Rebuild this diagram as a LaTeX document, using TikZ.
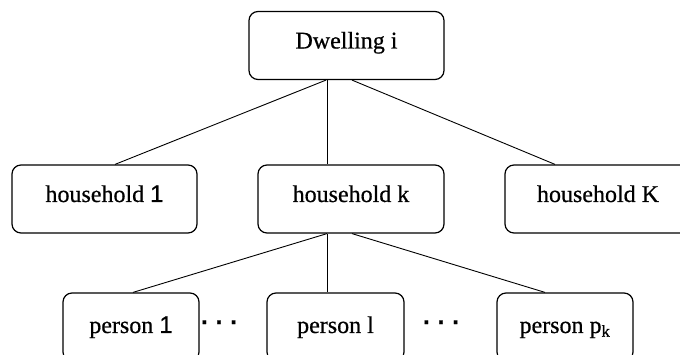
\documentclass[tikz,border=0pt]{standalone}
\usepackage{fontspec}
\setmainfont{Liberation Serif}[FakeBold=0.6]
\setsansfont{Liberation Sans}[FakeBold=0.6]
\begin{document}
\begin{tikzpicture}[x=1pt,y=-1pt,
  box/.style={draw, line width=1.2pt, rounded corners=9pt, inner xsep=0pt, inner ysep=0pt,
    font=\fontsize{24}{28}\selectfont, text height=37pt, text depth=31pt},
  pbox/.style={box, text height=40pt, text depth=28pt},
  link/.style={line width=0.9pt},
  dots/.style={font=\fontsize{24}{28}\selectfont\sffamily\bfseries, inner sep=0pt, anchor=base}]
\useasboundingbox (0,0) rectangle (680,355);
\node[box, minimum width=195pt] (d) at (346.5,45.5) {Dwelling i};
\node[box, minimum width=185pt] (h1) at (104.5,199) {household {\sffamily 1}};
\node[box, minimum width=186pt] (hk) at (351,199) {household k};
\node[box, minimum width=186pt] (hK) at (598,199) {household K};
\node[pbox, minimum width=136pt] (p1) at (131,327) {person {\sffamily 1}};
\node[pbox, minimum width=137pt] (pl) at (335.5,327) {person l};
\node[pbox, minimum width=136pt] (pp) at (565,327) {person p\textsubscript{k}};
\node[dots] (dA) at (219,324) {.\,\,.\,\,.};
\node[dots] (dB) at (441,324) {.\,\,.\,\,.};
\draw[link] ([xshift=-20.5pt]d.south) -- ([xshift=10.5pt]h1.north);
\draw[link] ([xshift=-19.5pt]d.south) -- ([xshift=-24pt]hk.north);
\draw[link] ([xshift=5.5pt]d.south) -- ([xshift=-43pt]hK.north);
\draw[link] ([xshift=-24pt]hk.south) -- ([xshift=2pt]p1.north);
\draw[link] ([xshift=-24pt]hk.south) -- ([xshift=-8.5pt]pl.north);
\draw[link] ([xshift=1pt]hk.south) -- ([xshift=-20pt]pp.north);
\end{tikzpicture}
\end{document}
